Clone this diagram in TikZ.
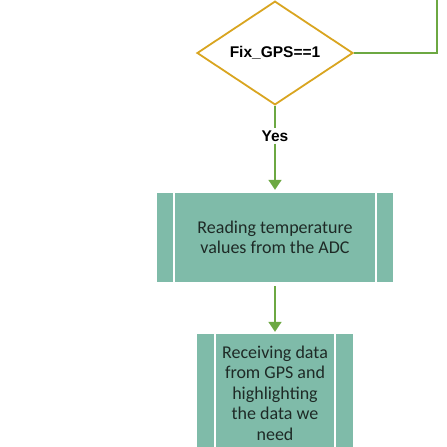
\documentclass[tikz,border=0pt]{standalone}
\usepackage{fontspec}
\setmainfont{Carlito}
\newfontfamily\boldsans{Liberation Sans}
\usetikzlibrary{shapes.geometric,arrows.meta}
\definecolor{tealfill}{HTML}{7FBBA9}
\definecolor{goldline}{HTML}{D9A520}
\definecolor{greenline}{HTML}{6CA842}
\definecolor{boxtext}{HTML}{1E2A26}
\tikzset{
  decision/.style={diamond, draw=goldline, line width=1.8pt, fill=white,
    minimum width=156pt, minimum height=92pt, inner sep=0pt,
    font=\boldsans\bfseries\fontsize{15.5}{17}\selectfont},
  procbox/.style={rectangle, fill=tealfill, inner sep=0pt, align=center,
    text=boxtext, font=\fontsize{18}{20.5}\selectfont},
  divider/.style={white, line width=2pt},
  flow/.style={greenline, line width=1.8pt, -{Triangle[width=13pt,length=10pt]}},
  flowline/.style={greenline, line width=1.8pt},
  lbl/.style={font=\boldsans\bfseries\fontsize{15.5}{17}\selectfont, inner sep=2pt}
}
\begin{document}
\begin{tikzpicture}[x=1pt,y=-1pt]
\useasboundingbox (0,0) rectangle (447,447);
\clip (0,0) rectangle (447,447);
\coordinate (topin) at (275,-30);
\coordinate (loopc) at (437,53);
\coordinate (looptop) at (437,-30);
\node[decision] (dec) at (275,53) {Fix\_GPS==1};
\node[lbl] (yes) at (275,136) {Yes};
\node[procbox, minimum width=236pt, minimum height=89pt] (adc) at (275,237.5)
  {Reading temperature\\values from the ADC};
\node[procbox, minimum width=156pt, minimum height=118pt] (gps) at (275,393)
  {Receiving data\\from GPS and\\highlighting\\the data we\\need};
% dividers for predefined-process boxes
\draw[divider] ([xshift=17pt]adc.north west) -- ([xshift=17pt]adc.south west);
\draw[divider] ([xshift=-17pt]adc.north east) -- ([xshift=-17pt]adc.south east);
\draw[divider] ([xshift=18pt]gps.north west) -- ([xshift=18pt]gps.south west);
\draw[divider] ([xshift=-18pt]gps.north east) -- ([xshift=-18pt]gps.south east);
% connectors
\draw[flow] (topin) -- (dec.north);
\draw[flowline] (dec.east) -- (loopc) -- (looptop);
\draw[flowline] (dec.south) -- (yes.north);
\draw[flow] (yes.south) -- ([yshift=3pt]adc.north);
\draw[flow] ([yshift=-4pt]adc.south) -- ([yshift=2pt]gps.north);
\end{tikzpicture}
\end{document}
